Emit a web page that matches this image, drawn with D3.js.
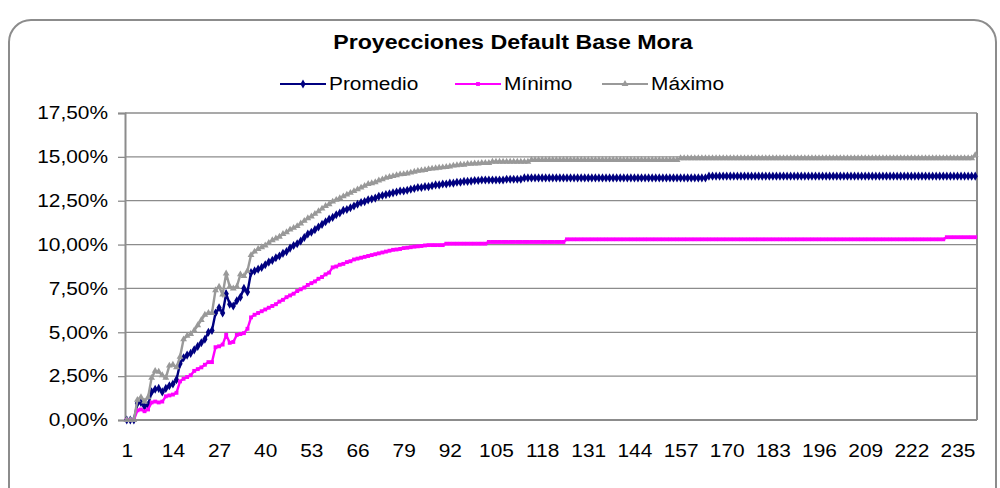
<!DOCTYPE html>
<html>
<head>
<meta charset="utf-8">
<script src="https://cdn.jsdelivr.net/npm/d3@7"></script>
<style>
  body { margin: 0; background: #fff; }
  text { font-family: "Liberation Sans", Arial, sans-serif; fill: #000; }
  /* the original text is a bit wider than Arial, stretch it */
  .wide { transform-box: fill-box; transform: scaleX(1.16); transform-origin: 50% 50%; }
  .wide-r { transform-box: fill-box; transform: scaleX(1.16); transform-origin: 100% 50%; }
  .wide-l { transform-box: fill-box; transform: scaleX(1.16); transform-origin: 0% 50%; }
</style>
</head>
<body>
<div id="chart"></div>
<script>
// categories 1..240 (label every 13th)
const periods = d3.range(1, 241)
const tickLabels = [1, 14, 27, 40, 53, 66, 79, 92, 105, 118, 131, 144, 157, 170, 183, 196, 209, 222, 235]
const yTicks = [0, 2.5, 5, 7.5, 10, 12.5, 15, 17.5]

// values in %
const promedio = [
  0, 0, 0, 0.95, 1.0, 0.78, 0.85, 1.6, 1.75, 1.8,
  1.6, 1.8, 1.95, 2.05, 2.3, 3.2, 3.55, 3.7, 3.8, 4.0,
  4.2, 4.4, 4.6, 5.0, 5.1, 6.1, 6.4, 6.1, 7.2, 6.6,
  6.5, 6.8, 7.0, 7.5, 7.3, 8.4, 8.5, 8.6, 8.7, 8.85,
  9.0, 9.1, 9.25, 9.35, 9.5, 9.6, 9.8, 9.95, 10.05, 10.2,
  10.4, 10.6, 10.7, 10.85, 11.0, 11.15, 11.3, 11.45, 11.55, 11.7,
  11.8, 11.95, 12.0, 12.1, 12.2, 12.3, 12.4, 12.45, 12.55, 12.6,
  12.65, 12.75, 12.8, 12.85, 12.9, 12.95, 13.0, 13.05, 13.05, 13.1,
  13.15, 13.2, 13.25, 13.25, 13.3, 13.3, 13.35, 13.4, 13.4, 13.45,
  13.45, 13.5, 13.5, 13.55, 13.55, 13.6, 13.6, 13.62, 13.65, 13.65,
  13.68, 13.68, 13.68, 13.68, 13.68, 13.68, 13.68, 13.72, 13.72, 13.72,
  13.72, 13.72, 13.8, 13.8, 13.8, 13.8, 13.8, 13.8, 13.8, 13.8,
  13.8, 13.8, 13.8, 13.8, 13.8, 13.8, 13.8, 13.8, 13.8, 13.8,
  13.8, 13.8, 13.8, 13.8, 13.8, 13.8, 13.8, 13.8, 13.8, 13.8,
  13.8, 13.8, 13.8, 13.8, 13.8, 13.8, 13.8, 13.8, 13.8, 13.8,
  13.8, 13.8, 13.8, 13.8, 13.8, 13.8, 13.8, 13.8, 13.8, 13.8,
  13.8, 13.8, 13.8, 13.8, 13.9, 13.9, 13.9, 13.9, 13.9, 13.9,
  13.9, 13.9, 13.9, 13.9, 13.9, 13.9, 13.9, 13.9, 13.9, 13.9,
  13.9, 13.9, 13.9, 13.9, 13.9, 13.9, 13.9, 13.9, 13.9, 13.9,
  13.9, 13.9, 13.9, 13.9, 13.9, 13.9, 13.9, 13.9, 13.9, 13.9,
  13.9, 13.9, 13.9, 13.9, 13.9, 13.9, 13.9, 13.9, 13.9, 13.9,
  13.9, 13.9, 13.9, 13.9, 13.9, 13.9, 13.9, 13.9, 13.9, 13.9,
  13.9, 13.9, 13.9, 13.9, 13.9, 13.9, 13.9, 13.9, 13.9, 13.9,
  13.9, 13.9, 13.9, 13.9, 13.9, 13.9, 13.9, 13.9, 13.9, 13.9
]

const minimo = [
  0, 0, 0, 0.55, 0.6, 0.5, 0.6, 1.0, 1.05, 1.0,
  1.05, 1.35, 1.4, 1.45, 1.55, 2.2, 2.35, 2.45, 2.55, 2.8,
  2.9, 3.0, 3.15, 3.3, 3.3, 4.15, 4.2, 4.3, 4.85, 4.4,
  4.45, 4.85, 4.9, 4.95, 5.2, 5.85, 6.0, 6.1, 6.2, 6.3,
  6.4, 6.5, 6.6, 6.75, 6.85, 7.0, 7.1, 7.2, 7.35, 7.45,
  7.55, 7.7, 7.8, 7.9, 8.05, 8.15, 8.3, 8.4, 8.7, 8.75,
  8.85, 8.9, 9.0, 9.05, 9.15, 9.2, 9.25, 9.3, 9.35, 9.4,
  9.45, 9.5, 9.55, 9.6, 9.65, 9.7, 9.72, 9.75, 9.8, 9.82,
  9.85, 9.88, 9.9, 9.92, 9.95, 9.97, 9.97, 9.97, 9.97, 9.97,
  10.05, 10.05, 10.05, 10.05, 10.05, 10.05, 10.05, 10.05, 10.05, 10.05,
  10.05, 10.05, 10.15, 10.15, 10.15, 10.15, 10.15, 10.15, 10.15, 10.15,
  10.15, 10.15, 10.15, 10.15, 10.15, 10.15, 10.15, 10.15, 10.15, 10.15,
  10.15, 10.15, 10.15, 10.15, 10.3, 10.3, 10.3, 10.3, 10.3, 10.3,
  10.3, 10.3, 10.3, 10.3, 10.3, 10.3, 10.3, 10.3, 10.3, 10.3,
  10.3, 10.3, 10.3, 10.3, 10.3, 10.3, 10.3, 10.3, 10.3, 10.3,
  10.3, 10.3, 10.3, 10.3, 10.3, 10.3, 10.3, 10.3, 10.3, 10.3,
  10.3, 10.3, 10.3, 10.3, 10.3, 10.3, 10.3, 10.3, 10.3, 10.3,
  10.3, 10.3, 10.3, 10.3, 10.3, 10.3, 10.3, 10.3, 10.3, 10.3,
  10.3, 10.3, 10.3, 10.3, 10.3, 10.3, 10.3, 10.3, 10.3, 10.3,
  10.3, 10.3, 10.3, 10.3, 10.3, 10.3, 10.3, 10.3, 10.3, 10.3,
  10.3, 10.3, 10.3, 10.3, 10.3, 10.3, 10.3, 10.3, 10.3, 10.3,
  10.3, 10.3, 10.3, 10.3, 10.3, 10.3, 10.3, 10.3, 10.3, 10.3,
  10.3, 10.3, 10.3, 10.3, 10.3, 10.3, 10.3, 10.3, 10.3, 10.3,
  10.3, 10.42, 10.42, 10.42, 10.42, 10.42, 10.42, 10.42, 10.42, 10.42
]

const maximo = [
  0, 0, 0, 1.15, 1.3, 1.05, 1.3, 2.4, 2.8, 2.75,
  2.55, 2.4, 3.1, 3.15, 3.0, 3.6, 4.6, 4.8, 4.9, 5.1,
  5.4, 5.7, 6.0, 6.1, 6.1, 7.4, 7.6, 7.15, 8.35, 7.6,
  7.5, 7.6, 8.3, 8.2, 8.5, 9.4, 9.6, 9.75, 9.85, 9.95,
  10.1, 10.25, 10.35, 10.45, 10.6, 10.7, 10.85, 10.95, 11.05, 11.2,
  11.35, 11.5, 11.6, 11.75, 11.9, 12.05, 12.2, 12.3, 12.45, 12.55,
  12.65, 12.75, 12.85, 12.95, 13.05, 13.15, 13.25, 13.35, 13.45, 13.5,
  13.55, 13.65, 13.72, 13.8, 13.85, 13.9, 13.95, 14.0, 14.02, 14.05,
  14.1, 14.15, 14.2, 14.22, 14.25, 14.3, 14.33, 14.35, 14.38, 14.4,
  14.42, 14.45, 14.5, 14.52, 14.55, 14.55, 14.6, 14.6, 14.62, 14.62,
  14.65, 14.65, 14.65, 14.72, 14.72, 14.72, 14.72, 14.72, 14.72, 14.72,
  14.72, 14.72, 14.72, 14.72, 14.82, 14.82, 14.82, 14.82, 14.82, 14.82,
  14.82, 14.82, 14.82, 14.82, 14.82, 14.82, 14.82, 14.82, 14.82, 14.82,
  14.82, 14.82, 14.82, 14.82, 14.82, 14.82, 14.82, 14.82, 14.82, 14.82,
  14.82, 14.82, 14.82, 14.82, 14.82, 14.82, 14.82, 14.82, 14.82, 14.82,
  14.82, 14.82, 14.82, 14.82, 14.82, 14.82, 14.92, 14.92, 14.92, 14.92,
  14.92, 14.92, 14.92, 14.92, 14.92, 14.92, 14.92, 14.92, 14.92, 14.92,
  14.92, 14.92, 14.92, 14.92, 14.92, 14.92, 14.92, 14.92, 14.92, 14.92,
  14.92, 14.92, 14.92, 14.92, 14.92, 14.92, 14.92, 14.92, 14.92, 14.92,
  14.92, 14.92, 14.92, 14.92, 14.92, 14.92, 14.92, 14.92, 14.92, 14.92,
  14.92, 14.92, 14.92, 14.92, 14.92, 14.92, 14.92, 14.92, 14.92, 14.92,
  14.92, 14.92, 14.92, 14.92, 14.92, 14.92, 14.92, 14.92, 14.92, 14.92,
  14.92, 14.92, 14.92, 14.92, 14.92, 14.92, 14.92, 14.92, 14.92, 14.92,
  14.92, 14.92, 14.92, 14.92, 14.92, 14.92, 14.92, 14.92, 14.92, 15.1
]

const series = [
  { name: 'Promedio', values: promedio, color: '#000080', symbol: d3.symbolDiamond, size: 24 },
  { name: 'Mínimo', values: minimo, color: '#ff00ff', symbol: d3.symbolSquare, size: 15 },
  { name: 'Máximo', values: maximo, color: '#999999', symbol: d3.symbolTriangle, size: 20 }
]

const width = 1000, height = 488
const plot = { left: 125, right: 977, top: 113, bottom: 420 }

const svg = d3.select('#chart').append('svg')
    .attr('width', width)
    .attr('height', height)

// outer frame
svg.append('rect')
    .attr('x', 9).attr('y', 20)
    .attr('width', 987).attr('height', 490)
    .attr('rx', 22)
    .attr('fill', '#fff')
    .attr('stroke', '#8c8c8c')
    .attr('stroke-width', 2)

svg.append('text')
    .attr('class', 'wide')
    .attr('x', 513).attr('y', 49)
    .attr('text-anchor', 'middle')
    .style('font-size', '20px')
    .style('font-weight', 'bold')
    .text('Proyecciones Default Base Mora')

const x = d3.scalePoint()
    .domain(periods)
    .range([plot.left, plot.right])
    .padding(0.5)

const y = d3.scaleLinear()
    .domain([0, 17.5])
    .range([plot.bottom, plot.top])

// gridlines
svg.append('g')
    .selectAll('line')
    .data(yTicks.slice(1))
    .enter().append('line')
      .attr('x1', plot.left).attr('x2', plot.right)
      .attr('y1', d => y(d)).attr('y2', d => y(d))
      .attr('stroke', '#8c8c8c')
      .attr('stroke-width', 1.3)

// y axis
const fmt = d => d.toFixed(2).replace('.', ',') + '%'
const yAxis = svg.append('g')
    .attr('transform', `translate(${plot.left},0)`)
    .call(d3.axisLeft(y).tickValues(yTicks).tickSize(7).tickPadding(10).tickFormat(fmt))
yAxis.select('.domain').attr('stroke', '#8c8c8c').attr('stroke-width', 2)
yAxis.selectAll('.tick line').attr('stroke', '#8c8c8c').attr('stroke-width', 1.3)
yAxis.selectAll('.tick text')
    .attr('class', 'wide-r')
    .style('font-size', '18px')
    .attr('font-family', null)

// right border of plot area
svg.append('line')
    .attr('x1', plot.right).attr('x2', plot.right)
    .attr('y1', plot.top).attr('y2', plot.bottom)
    .attr('stroke', '#8c8c8c').attr('stroke-width', 2)

// series lines + markers
const line = d3.line()
    .x((d, i) => x(periods[i]))
    .y(d => y(d))

series.forEach(s => {
  const g = svg.append('g')
  g.append('path')
      .datum(s.values)
      .attr('d', line)
      .attr('fill', 'none')
      .attr('stroke', s.color)
      .attr('stroke-width', 2.4)
  g.selectAll('path.m')
      .data(s.values)
      .enter().append('path')
        .attr('class', 'm')
        .attr('d', d3.symbol().type(s.symbol).size(s.size))
        .attr('transform', (d, i) => `translate(${x(periods[i])},${y(d)})`)
        .attr('fill', s.color)
})

// x axis
const xAxis = svg.append('g')
    .attr('transform', `translate(0,${plot.bottom})`)
    .call(d3.axisBottom(x).tickValues(tickLabels).tickSize(0).tickPadding(24))
xAxis.select('.domain').attr('stroke', '#8c8c8c').attr('stroke-width', 2)
  .attr('d', `M${plot.left},0H${plot.right}`)
xAxis.selectAll('.tick text')
    .attr('class', 'wide')
    .style('font-size', '18px')
    .attr('font-family', null)

// legend
const legendItems = [
  { s: series[0], x: 280 },
  { s: series[1], x: 455 },
  { s: series[2], x: 602 }
]
const lg = svg.append('g')
legendItems.forEach(it => {
  lg.append('line')
      .attr('x1', it.x).attr('x2', it.x + 46)
      .attr('y1', 84).attr('y2', 84)
      .attr('stroke', it.s.color).attr('stroke-width', 2)
  lg.append('path')
      .attr('d', d3.symbol().type(it.s.symbol).size(it.s.size))
      .attr('transform', `translate(${it.x + 23},84)`)
      .attr('fill', it.s.color)
  lg.append('text')
      .attr('class', 'wide-l')
      .attr('x', it.x + 49).attr('y', 90)
      .style('font-size', '18px')
      .text(it.s.name)
})
</script>
</body>
</html>
